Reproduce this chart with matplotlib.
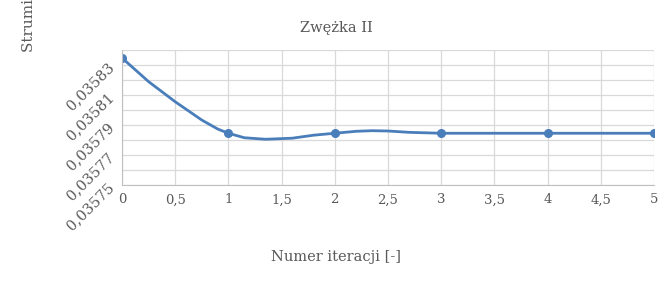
import numpy as np
import matplotlib.pyplot as plt
from matplotlib.ticker import MultipleLocator, FixedLocator, FuncFormatter

# values
iteracja = [0, 0.25, 0.5, 0.75, 0.9, 1, 1.15, 1.35, 1.6, 1.8, 2, 2.2, 2.35, 2.5, 2.7, 2.85, 3, 4, 5]
strumien = [0.0358347, 0.0358189, 0.0358055, 0.0357933, 0.0357873, 0.0357845, 0.0357815,
            0.0357805, 0.0357812, 0.0357832, 0.0357845, 0.0357858, 0.0357862, 0.0357860,
            0.0357851, 0.0357848, 0.0357845, 0.0357845, 0.0357845]
znaczniki = [0, 5, 10, 16, 17, 18]
y_etykiety = [0.03575, 0.03577, 0.03579, 0.03581, 0.03583]
y_siatka = [0.03575 + i * 0.00001 for i in range(10)]

kolor = '#4a7ebb'
szary = '#595959'
plt.rcParams['font.family'] = ['DejaVu Serif']

fig = plt.figure(figsize=(6.72, 2.88), dpi=100)
ax = fig.add_axes([122/672, 1-185/288, (654-122)/672, 135/288])

ax.plot(iteracja, strumien, color=kolor, lw=2.0, marker='o', ms=5.5,
        markevery=znaczniki, solid_capstyle='round')

ax.set_xlim(0, 5)
ax.set_ylim(0.03575, 0.03584)
ax.xaxis.set_major_locator(MultipleLocator(0.5))
ax.yaxis.set_major_locator(FixedLocator(y_etykiety))
ax.yaxis.set_minor_locator(FixedLocator(y_siatka))

ax.xaxis.set_major_formatter(FuncFormatter(lambda v, p: ('%g' % v).replace('.', ',')))
ax.yaxis.set_major_formatter(FuncFormatter(lambda v, p: ('%.5f' % v).replace('.', ',')))

ax.grid(True, which='both', color='#d9d9d9', lw=0.9)
ax.set_axisbelow(True)
for s in ['top', 'right']:
    ax.spines[s].set_visible(False)
for s in ['left', 'bottom']:
    ax.spines[s].set_color('#bfbfbf')
ax.tick_params(which='both', length=0, colors=szary, labelsize=9.5)
ax.tick_params(axis='x', pad=6)
ax.tick_params(axis='y', pad=7, labelsize=10.5)
for t in ax.get_yticklabels():
    t.set_rotation(45)
    t.set_ha('right')
    t.set_va('center')
    t.set_rotation_mode('anchor')

fig.text(0.5, 1-28/288, 'Zwężka II', ha='center', va='center', fontsize=10.5, color=szary)
fig.text(0.5, 1-257/288, 'Numer iteracji [-]', ha='center', va='center', fontsize=10.5, color=szary)
fig.text(29/672, 1-52/288, 'Strumień masowy [kg/s]', rotation=90, ha='center', va='bottom',
         fontsize=11, color=szary)

fig.savefig('out.png', dpi=100)
